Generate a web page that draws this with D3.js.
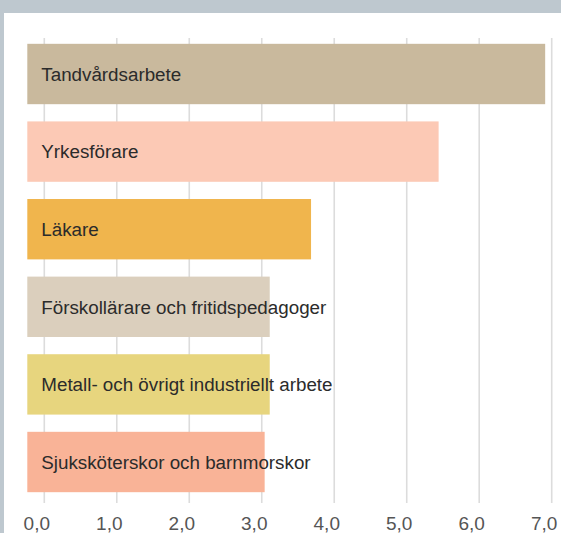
<!DOCTYPE html>
<html lang="sv">
<head>
<meta charset="utf-8">
<script src="https://d3js.org/d3.v7.min.js"></script>
<style>
  body { margin: 0; background: #bec8cf; }
  svg { display: block; }
</style>
</head>
<body>
<script type="text/javascript">

var categories = ["Tandvårdsarbete", "Yrkesförare", "Läkare",
  "Förskollärare och fritidspedagoger", "Metall- och övrigt industriellt arbete",
  "Sjuksköterskor och barnmorskor"]
var values = [6.91, 5.44, 3.68, 3.11, 3.11, 3.04]
var colors = ["#c9b99d", "#fcc9b5", "#f0b54d", "#dbcfbd", "#e7d57e", "#f9b397"]
var ticks = [0, 1, 2, 3, 4, 5, 6, 7]

var W = 561, H = 533

var svg = d3.select("body")
  .append("svg")
  .attr("width", W)
  .attr("height", H)

// grey frame, white panel
svg.append("rect").attr("width", W).attr("height", H).attr("fill", "#bec8cf")
svg.append("rect")
  .attr("x", 4).attr("y", 13)
  .attr("width", W - 4).attr("height", H - 13)
  .attr("fill", "#fff")

var x = d3.scaleLinear().domain([0, 7]).range([44.3, 551.7])
var y = d3.scaleBand().domain(categories).range([35.2, 500.8])
  .paddingInner(0.222).paddingOuter(0.111)

var barOffset = 17   // bars start a bit left of zero

// grid
svg.selectAll("line.grid")
  .data(ticks)
  .enter()
  .append("line")
  .attr("class", "grid")
  .attr("x1", d => x(d)).attr("x2", d => x(d))
  .attr("y1", 38).attr("y2", 503)
  .attr("stroke", "#dcdcdc")
  .attr("stroke-width", 1.6)

var data = categories.map((c, i) => ({ name: c, v: values[i], color: colors[i] }))

svg.selectAll("rect.bar")
  .data(data)
  .enter()
  .append("rect")
  .attr("class", "bar")
  .attr("x", x(0) - barOffset)
  .attr("y", d => y(d.name))
  .attr("width", d => x(d.v) - x(0) + barOffset)
  .attr("height", y.bandwidth())
  .attr("fill", d => d.color)

svg.selectAll("text.label")
  .data(data)
  .enter()
  .append("text")
  .attr("class", "label")
  .attr("x", x(0) - barOffset + 14)
  .attr("y", d => y(d.name) + y.bandwidth() / 2)
  .attr("dy", "0.36em")
  .attr("font-family", "Liberation Sans, Arial, sans-serif")
  .attr("font-size", 18.8)
  .attr("fill", "#2b2b2b")
  .text(d => d.name)

// axis labels
var axis = d3.axisBottom(x)
  .tickValues(ticks)
  .tickSize(0)
  .tickFormat(d => d3.format(".1f")(d).replace(".", ","))

var gx = svg.append("g")
  .attr("transform", "translate(0,513)")
  .call(axis)
gx.select(".domain").remove()
gx.selectAll("text")
  .attr("dx", -8)
  .attr("y", 3)
  .attr("font-family", "Liberation Sans, Arial, sans-serif")
  .attr("font-size", 19)
  .attr("fill", "#555")

</script>
</body>
</html>
